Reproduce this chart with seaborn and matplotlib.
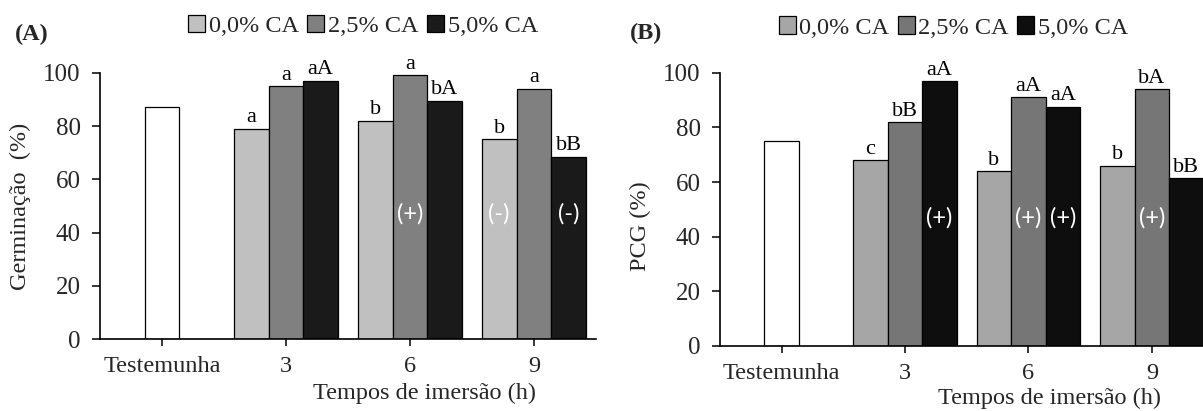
import numpy as np
import pandas as pd
import matplotlib
matplotlib.use("Agg")
import matplotlib.pyplot as plt
from matplotlib.patches import Patch
import seaborn as sns

# ---------------- data ----------------
categories = ["Testemunha", "3", "6", "9"]
times = ["3", "6", "9"]
levels = ["0,0% CA", "2,5% CA", "5,0% CA"]

# Panel A - Germinação (%)
germ_control = [87]
germ_00 = [79, 82, 75]
germ_25 = [95, 99, 94]
germ_50 = [97, 89.5, 68.5]
germ_letters_00 = ["a", "b", "b"]
germ_letters_25 = ["a", "a", "a"]
germ_letters_50 = ["aA", "bA", "bB"]
germ_signs_00 = ["", "", "(-)"]
germ_signs_25 = ["", "(+)", ""]
germ_signs_50 = ["", "", "(-)"]

# Panel B - PCG (%)
pcg_control = [75]
pcg_00 = [68, 64, 66]
pcg_25 = [82, 91, 94]
pcg_50 = [97, 87.5, 61.5]
pcg_letters_00 = ["c", "b", "b"]
pcg_letters_25 = ["bB", "aA", "bA"]
pcg_letters_50 = ["aA", "aA", "bB"]
pcg_signs_00 = ["", "", ""]
pcg_signs_25 = ["", "(+)", "(+)"]
pcg_signs_50 = ["(+)", "(+)", ""]

colors_A = ["#C0C0C0", "#808080", "#1A1A1A"]
colors_B = ["#A6A6A6", "#767676", "#0E0E0E"]

# ---------------- style ----------------
sns.set_theme(style="white")
plt.rcParams["font.family"] = ["Liberation Serif", "DejaVu Serif"]

fig = plt.figure(figsize=(12.03, 4.11), dpi=100)
axA = fig.add_axes([0.0831, 0.1745, 0.4123, 0.6486])
axB = fig.add_axes([0.5985, 0.1582, 0.4103, 0.6649])


def draw_panel(ax, control, v00, v25, v50, l00, l25, l50, s00, s25, s50,
               colors, ylabel):
    ctrl_df = pd.DataFrame({"cat": categories[:1], "val": control})
    sns.barplot(data=ctrl_df, x="cat", y="val", order=categories,
                color="white", edgecolor="black", linewidth=0.9,
                width=0.28, ax=ax, saturation=1)
    long = pd.DataFrame({
        "cat": times * 3,
        "nivel": [levels[0]] * 3 + [levels[1]] * 3 + [levels[2]] * 3,
        "val": list(v00) + list(v25) + list(v50),
    })
    sns.barplot(data=long, x="cat", y="val", hue="nivel", order=categories,
                hue_order=levels, palette=colors, edgecolor="black",
                linewidth=0.9, width=0.84, ax=ax, saturation=1,
                legend=False)
    hue_containers = ax.containers[-3:]
    for cont, labs, signs in zip(hue_containers, [l00, l25, l50],
                                 [s00, s25, s50]):
        ax.bar_label(cont, labels=labs, padding=1, fontsize=16,
                     color="black", clip_on=False)
        for bar, s in zip(cont, signs):
            if s:
                ax.text(bar.get_x() + bar.get_width() / 2, 47, s,
                        ha="center", va="center", color="white",
                        fontsize=17, family=["Lato", "DejaVu Sans"])
    ax.set_xlim(-0.5, 3.5)
    ax.set_ylim(0, 100)
    ax.set_yticks(np.arange(0, 101, 20))
    for side in ["top", "right"]:
        ax.spines[side].set_visible(False)
    for side in ["left", "bottom"]:
        ax.spines[side].set_color("black")
        ax.spines[side].set_linewidth(1.2)
    ax.tick_params(axis="y", direction="out", length=6, width=1.1,
                   color="black", pad=8, labelsize=18, left=True)
    ax.tick_params(axis="x", direction="out", length=5, width=1.1,
                   color="black", pad=7, labelsize=17.5, bottom=True)
    ax.set_ylabel(ylabel, fontsize=17.5)
    ax.set_xlabel("Tempos de imersão (h)", fontsize=17.5)


draw_panel(axA, germ_control, germ_00, germ_25, germ_50,
           germ_letters_00, germ_letters_25, germ_letters_50,
           germ_signs_00, germ_signs_25, germ_signs_50,
           colors_A, "Germinação  (%)")
draw_panel(axB, pcg_control, pcg_00, pcg_25, pcg_50,
           pcg_letters_00, pcg_letters_25, pcg_letters_50,
           pcg_signs_00, pcg_signs_25, pcg_signs_50,
           colors_B, "PCG (%)")

axA.xaxis.set_label_coords(0.655, -0.165)
axB.xaxis.set_label_coords(0.667, -0.152)
axA.yaxis.set_label_coords(-0.14, 0.50)
axB.yaxis.set_label_coords(-0.14, 0.44)

# panel tags
fig.text(0.012, 1 - 34 / 411, "(A)", fontsize=17.5, fontweight="bold",
         ha="left", va="center")
fig.text(0.524, 1 - 33 / 411, "(B)", fontsize=17.5, fontweight="bold",
         ha="left", va="center")

# legends
for colors, anchor in [(colors_A, (0.3017, 1 - 26 / 411)),
                       (colors_B, (0.7926, 1 - 27.5 / 411))]:
    handles = [Patch(facecolor=c, edgecolor="black", linewidth=0.9)
               for c in colors]
    fig.legend(handles, levels, loc="center", bbox_to_anchor=anchor,
               ncol=3, frameon=False, fontsize=17.5, handlelength=0.7,
               handleheight=0.7, handletextpad=0.15, columnspacing=0.35,
               borderpad=0.1)

fig.savefig("out.png", dpi=100)
